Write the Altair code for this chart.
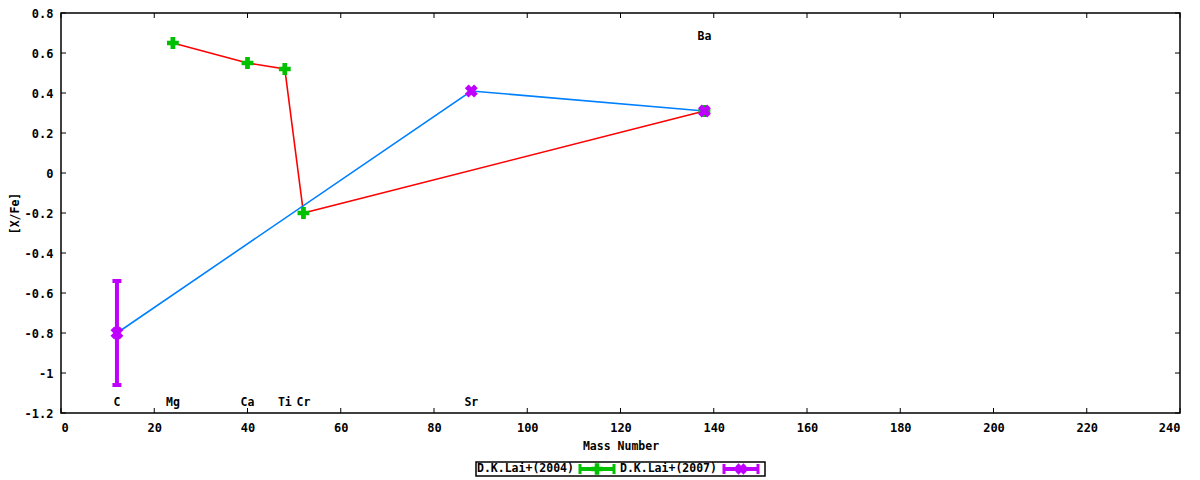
import altair as alt
import pandas as pd

# D.K.Lai+(2004)
elem_2004 = ["Mg", "Ca", "Ti", "Cr", "Ba"]
mass_2004 = [24, 40, 48, 52, 138]
xfe_2004 = [0.65, 0.55, 0.52, -0.20, 0.31]

# D.K.Lai+(2007)
elem_2007 = ["C", "Sr", "Ba"]
mass_2007 = [12, 88, 138]
xfe_2007 = [-0.80, 0.41, 0.31]
err_2007 = [0.26, 0.0, 0.0]

# element labels
label_elem = ["C", "Mg", "Ca", "Ti", "Cr", "Sr", "Ba"]
label_mass = [12, 24, 40, 48, 52, 88, 138]
label_y = [-1.15, -1.15, -1.15, -1.15, -1.15, -1.15, 0.68]

x_ticks = [0, 20, 40, 60, 80, 100, 120, 140, 160, 180, 200, 220, 240]
y_ticks = [-1.2, -1.0, -0.8, -0.6, -0.4, -0.2, 0.0, 0.2, 0.4, 0.6, 0.8]

W, H = 1119, 400
FONT = "DejaVu Sans Mono"
RED, GREEN, BLUE, PURPLE = "#ff0000", "#00c000", "#0080ff", "#c000ff"

df04 = pd.DataFrame({"element": elem_2004, "mass": mass_2004, "xfe": xfe_2004})
df07 = pd.DataFrame({"element": elem_2007, "mass": mass_2007, "xfe": xfe_2007, "err": err_2007})
df07["lo"] = df07["xfe"] - df07["err"]
df07["hi"] = df07["xfe"] + df07["err"]
df_lab = pd.DataFrame({"element": label_elem, "mass": label_mass, "y": label_y})
df_xt = pd.DataFrame({"t": x_ticks})
df_yt = pd.DataFrame({"t": y_ticks})

xs = alt.Scale(domain=[0, 240], nice=False, zero=False)
ys = alt.Scale(domain=[-1.2, 0.8], nice=False, zero=False)

x_axis = alt.Axis(values=x_ticks, format="d", title="Mass Number", grid=False,
                  domain=False, ticks=False, labelPadding=9, labelOverlap=False,
                  titleX=W / 2, titleY=33, titleBaseline="middle")
y_axis = alt.Axis(values=y_ticks, format=".1~f",
                  labelExpr="replace(datum.label, '\u2212', '-')",
                  title="[X/Fe]", grid=False, domain=False, ticks=False, labelPadding=8,
                  labelOverlap=False,
                  titleX=-46, titleY=H / 2, titleAngle=-90, titleBaseline="middle",
                  titleAlign="center")

X = alt.X("mass:Q", scale=xs, axis=x_axis)
Y = alt.Y("xfe:Q", scale=ys, axis=y_axis)

red_line = alt.Chart(df04).mark_line(color=RED, strokeWidth=1.6).encode(x=X, y=Y, order="mass:Q")
blue_line = alt.Chart(df07).mark_line(color=BLUE, strokeWidth=1.6).encode(
    x=X, y=Y, order="mass:Q")

green_pts = alt.Chart(df04).mark_point(shape="cross", filled=True, opacity=1,
                                       color=GREEN, size=140).encode(x=X, y=Y)

err07 = df07[df07["err"] > 0]
err_bar = alt.Chart(err07).mark_rule(color=PURPLE, strokeWidth=4).encode(
    x=X, y=alt.Y("lo:Q", scale=ys, axis=y_axis), y2="hi:Q")
cap_lo = alt.Chart(err07).mark_tick(orient="horizontal", color=PURPLE, size=9,
                                    thickness=4, opacity=1).encode(
    x=X, y=alt.Y("lo:Q", scale=ys, axis=y_axis))
cap_hi = alt.Chart(err07).mark_tick(orient="horizontal", color=PURPLE, size=9,
                                    thickness=4, opacity=1).encode(
    x=X, y=alt.Y("hi:Q", scale=ys, axis=y_axis))
purple_pts = alt.Chart(df07).mark_point(shape="cross", angle=45, filled=True, opacity=1,
                                        color=PURPLE, size=170).encode(x=X, y=Y)

labels = alt.Chart(df_lab).mark_text(font=FONT, fontWeight="bold", fontSize=11.5,
                                     color="black").encode(
    x=X, y=alt.Y("y:Q", scale=ys, axis=y_axis), text="element:N")

# inward ticks on all four sides
tk = dict(color="black", strokeWidth=1)
XT = alt.X("t:Q", scale=xs, axis=x_axis)
YT = alt.Y("t:Q", scale=ys, axis=y_axis)
t_bottom = alt.Chart(df_xt).mark_rule(**tk).encode(x=XT, y=alt.value(H), y2=alt.value(H - 5))
t_top = alt.Chart(df_xt).mark_rule(**tk).encode(x=XT, y=alt.value(0), y2=alt.value(5))
t_left = alt.Chart(df_yt).mark_rule(**tk).encode(y=YT, x=alt.value(0), x2=alt.value(5))
t_right = alt.Chart(df_yt).mark_rule(**tk).encode(y=YT, x=alt.value(W), x2=alt.value(W - 5))

# legend box below the plot (label first, then sample, gnuplot style)
one = alt.Data(values=[{"k": 1}])
LY = 456
leg_box = alt.Chart(one).mark_rect(fill="white", stroke="black", strokeWidth=1.5).encode(
    x=alt.value(415), x2=alt.value(704), y=alt.value(LY - 7), y2=alt.value(LY + 7))
leg_t1 = alt.Chart(one).mark_text(font=FONT, fontWeight="bold", fontSize=11.5, align="left",
                                  baseline="middle", color="black").encode(
    x=alt.value(416), y=alt.value(LY), text=alt.value("D.K.Lai+(2004)"))
leg_t2 = alt.Chart(one).mark_text(font=FONT, fontWeight="bold", fontSize=11.5, align="left",
                                  baseline="middle", color="black").encode(
    x=alt.value(559), y=alt.value(LY), text=alt.value("D.K.Lai+(2007)"))


def sample(x0, x1, col, shape, angle):
    line = alt.Chart(one).mark_rule(color=col, strokeWidth=4).encode(
        x=alt.value(x0), x2=alt.value(x1), y=alt.value(LY))
    c1 = alt.Chart(one).mark_rule(color=col, strokeWidth=3).encode(
        x=alt.value(x0 + 1), y=alt.value(LY - 5), y2=alt.value(LY + 5))
    c2 = alt.Chart(one).mark_rule(color=col, strokeWidth=3).encode(
        x=alt.value(x1 - 1), y=alt.value(LY - 5), y2=alt.value(LY + 5))
    pt = alt.Chart(one).mark_point(shape=shape, angle=angle, filled=True, opacity=1,
                                   color=col, size=130).encode(
        x=alt.value((x0 + x1) / 2), y=alt.value(LY))
    return line + c1 + c2 + pt


chart = alt.layer(
    red_line, blue_line, green_pts, err_bar, cap_lo, cap_hi, purple_pts, labels,
    t_bottom, t_top, t_left, t_right,
    leg_box, leg_t1, leg_t2,
    sample(518, 554, GREEN, "cross", 0), sample(662, 698, PURPLE, "cross", 45),
).properties(
    width=W, height=H,
    autosize=alt.AutoSizeParams(type="none"),
    padding={"left": 53, "top": 5, "right": 12, "bottom": 64},
).configure_view(
    stroke="black", strokeWidth=1.5
).configure_axis(
    labelFont=FONT, labelFontWeight="bold", labelFontSize=12, labelColor="black",
    titleFont=FONT, titleFontWeight="bold", titleFontSize=11.5, titleColor="black",
    labelOverlap=False
)

chart.save("out.html", embed_options={"renderer": "svg", "actions": False})
